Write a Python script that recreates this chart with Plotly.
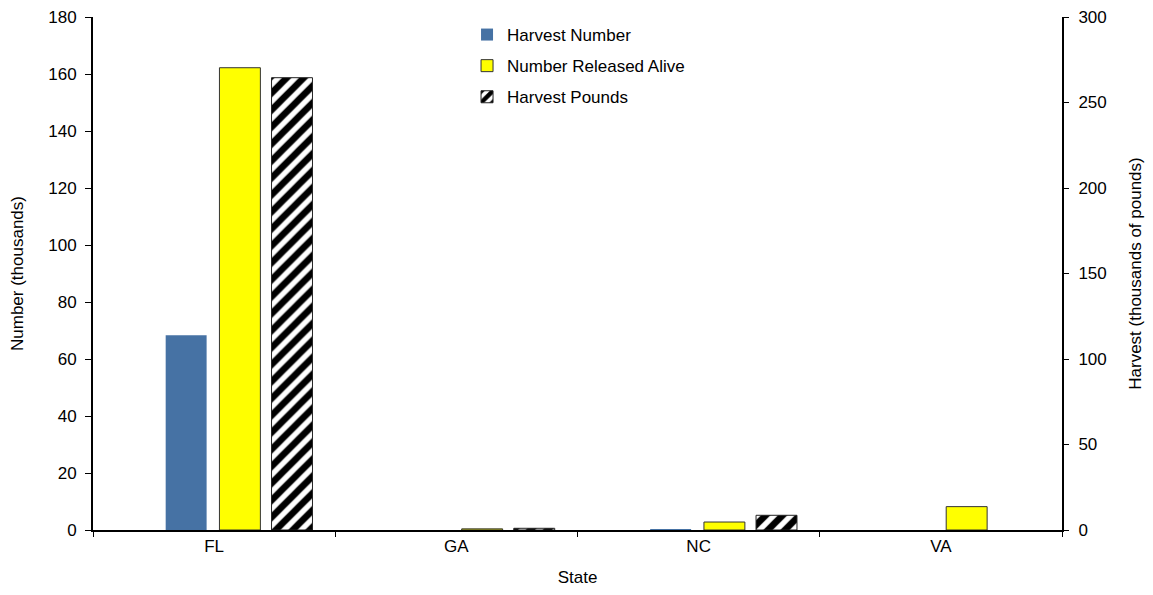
import plotly.graph_objects as go

states = ["FL", "GA", "NC", "VA"]
harvest_number = [68.3, None, 0.3, None]      # thousands (left axis)
released_alive = [162.2, 0.4, 2.8, 8.2]       # thousands (left axis)
harvest_pounds = [264.5, 1.0, 8.6, None]      # thousands of pounds (right axis)

font_family = "Liberation Sans, Arial, sans-serif"
W = 0.169

fig = go.Figure()
fig.add_trace(go.Bar(
    x=states, y=harvest_number, name="Harvest Number",
    marker=dict(color="#4672A4", line=dict(width=0)),
    width=W, offset=-0.200, legendgroup="a", yaxis="y"))
fig.add_trace(go.Bar(
    x=states, y=released_alive, name="Number Released Alive",
    marker=dict(color="#FFFF00", line=dict(width=1, color="#333333")),
    width=W, offset=0.022, legendgroup="b", yaxis="y"))
fig.add_trace(go.Bar(
    x=states, y=harvest_pounds, name="Harvest Pounds",
    marker=dict(color="white", line=dict(width=1, color="#222222"),
                pattern=dict(shape="/", fgcolor="#000000", bgcolor="#ffffff",
                             fgopacity=1, fillmode="replace",
                             size=12, solidity=0.55)),
    width=W, offset=0.237, legendgroup="c", yaxis="y2"))

fig.update_layout(
    width=1137, height=579,
    margin=dict(l=85, r=83, t=9, b=57),
    paper_bgcolor="white", plot_bgcolor="white",
    barmode="overlay",
    font=dict(family=font_family, size=17, color="black"),
    showlegend=True,
    legend=dict(x=0.386, y=1.0, xanchor="left", yanchor="top",
                bgcolor="rgba(0,0,0,0)", font=dict(size=17),
                traceorder="grouped", tracegroupgap=6,
                itemwidth=30),
    xaxis=dict(
        type="category", range=[-0.5, 3.5], automargin=False,
        tickson="boundaries", ticks="outside", ticklen=5, tickcolor="black",
        showline=True, linecolor="black", linewidth=2,
        showgrid=False, zeroline=False,
        title=dict(text="State", font=dict(size=17), standoff=19),
    ),
    yaxis=dict(
        range=[0, 180], dtick=20, ticks="outside", ticklen=6, tickcolor="black",
        showline=True, linecolor="black", linewidth=2, automargin=False,
        showgrid=False, zeroline=False, ticklabeloverflow="allow",
        ticklabelstandoff=5,
        title=dict(text="Number (thousands)", font=dict(size=17), standoff=22),
    ),
    yaxis2=dict(
        range=[0, 300], dtick=50, overlaying="y", side="right", automargin=False,
        ticks="outside", ticklen=5, tickcolor="black",
        showline=True, linecolor="black", linewidth=2,
        showgrid=False, zeroline=False, ticklabeloverflow="allow",
        ticklabelstandoff=6,
        title=dict(text="Harvest (thousands of pounds)", font=dict(size=17), standoff=28),
    ),
)

fig.write_html("out.html")
